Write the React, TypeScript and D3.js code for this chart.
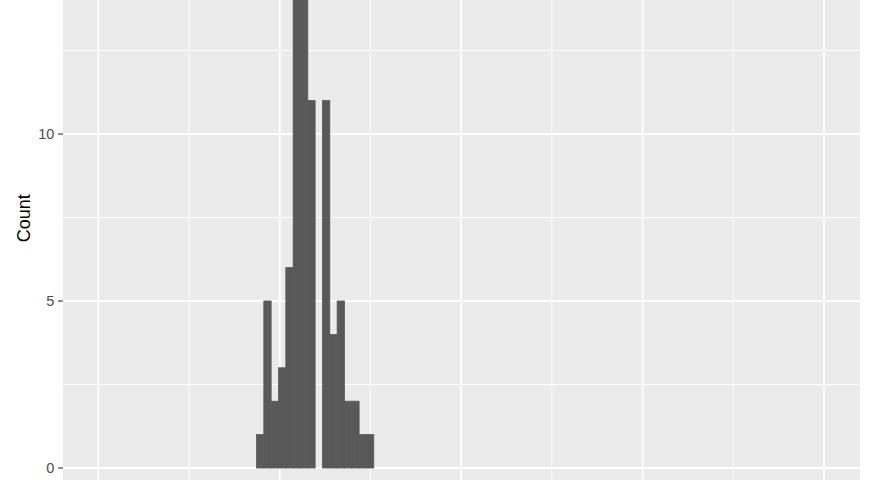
import React from "react";
import * as d3 from "d3";

// Histogram data (bin counts); first bin starts at binStart, each bin is binWidth wide
const binStart = 43.6;
const binWidth = 2.02;
const counts = [1, 5, 2, 3, 6, 16, 15, 11, 0, 11, 4, 5, 2, 2, 1, 1];
const yTicks = [0, 5, 10];
const yMinor = [2.5, 7.5, 12.5];
const xMajor = [0, 50, 100, 150, 200];
const xMinor = [25, 75, 125, 175];
const yTitle = "Count";

const W = 880;
const H = 480;
const panel = { left: 63, right: 860, top: 0, bottom: 490 };

export default function App() {
  const x = d3.scaleLinear().domain([0, 200]).range([98.3, 824]);
  const y = d3.scaleLinear().domain([0, 10]).range([468, 134]);

  const bins = counts.map((c, i) => ({
    x0: binStart + i * binWidth,
    x1: binStart + (i + 1) * binWidth,
    c,
  }));

  const font = "'Liberation Sans', Arial, Helvetica, sans-serif";

  return (
    <svg
      width={W}
      height={H}
      style={{ position: "fixed", left: 0, top: 0, background: "#fff" }}
      fontFamily={font}
    >
      <defs>
        <clipPath id="panelClip">
          <rect
            x={panel.left}
            y={panel.top}
            width={panel.right - panel.left}
            height={panel.bottom - panel.top}
          />
        </clipPath>
      </defs>
      <rect
        x={panel.left}
        y={panel.top}
        width={panel.right - panel.left}
        height={panel.bottom - panel.top}
        fill="#EBEBEB"
      />
      <g clipPath="url(#panelClip)">
        {yMinor.map((v) => (
          <line
            key={"ym" + v}
            x1={panel.left}
            x2={panel.right}
            y1={y(v)}
            y2={y(v)}
            stroke="#fff"
            strokeWidth={0.9}
          />
        ))}
        {xMinor.map((v) => (
          <line
            key={"xm" + v}
            x1={x(v)}
            x2={x(v)}
            y1={panel.top}
            y2={panel.bottom}
            stroke="#fff"
            strokeWidth={0.9}
          />
        ))}
        {yTicks.map((v) => (
          <line
            key={"yM" + v}
            x1={panel.left}
            x2={panel.right}
            y1={y(v)}
            y2={y(v)}
            stroke="#fff"
            strokeWidth={1.8}
          />
        ))}
        {xMajor.map((v) => (
          <line
            key={"xM" + v}
            x1={x(v)}
            x2={x(v)}
            y1={panel.top}
            y2={panel.bottom}
            stroke="#fff"
            strokeWidth={1.8}
          />
        ))}
        {bins.map((b, i) =>
          b.c > 0 ? (
            <rect
              key={"b" + i}
              x={x(b.x0)}
              y={y(b.c)}
              width={x(b.x1) - x(b.x0)}
              height={y(0) - y(b.c)}
              fill="#595959"
              stroke="#595959"
              strokeWidth={0.8}
            />
          ) : null
        )}
      </g>
      {yTicks.map((v) => (
        <g key={"yt" + v}>
          <line
            x1={panel.left - 5}
            x2={panel.left}
            y1={y(v)}
            y2={y(v)}
            stroke="#333"
            strokeWidth={1.1}
          />
          <text
            x={54.3}
            y={y(v)}
            dy="0.36em"
            textAnchor="end"
            fontSize={14.5}
            fill="#4D4D4D"
          >
            {v}
          </text>
        </g>
      ))}
      <text
        transform={`translate(29.5,218.3) rotate(-90)`}
        textAnchor="middle"
        fontSize={18}
        fill="#000"
      >
        {yTitle}
      </text>
    </svg>
  );
}
